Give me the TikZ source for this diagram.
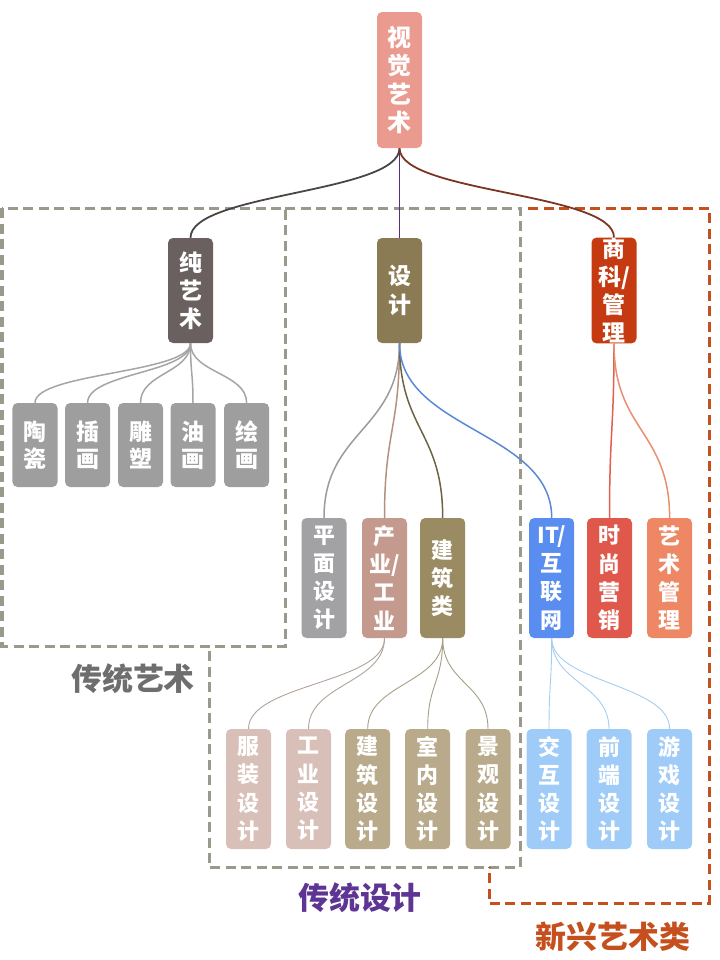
\documentclass[tikz,border=0pt]{standalone}
\usepackage{fontspec}
\newfontfamily\cjk{Noto Sans CJK SC}

\definecolor{cRoot}{HTML}{EB9A8F}
\definecolor{cFine}{HTML}{6B6060}
\definecolor{cDesign}{HTML}{8B7B55}
\definecolor{cBiz}{HTML}{C53A10}
\definecolor{cCraft}{HTML}{9E9E9E}
\definecolor{cGraphic}{HTML}{A2A2A4}
\definecolor{cIndustry}{HTML}{C39A8D}
\definecolor{cArch}{HTML}{9B8B62}
\definecolor{cIT}{HTML}{5A8DF0}
\definecolor{cFashion}{HTML}{E0574B}
\definecolor{cMgmt}{HTML}{EE8864}
\definecolor{cProd}{HTML}{D8C0B8}
\definecolor{cSpace}{HTML}{B8AA8A}
\definecolor{cWeb}{HTML}{9ECBF8}
\definecolor{cFrame}{HTML}{9B988C}
\definecolor{cOld}{HTML}{6E6E6E}
\definecolor{cNew}{HTML}{C5501E}
\definecolor{cPurple}{HTML}{5E3592}
\definecolor{eFine}{HTML}{4B4545}
\definecolor{eDesign}{HTML}{5B2D7E}
\definecolor{eBiz}{HTML}{7C3522}
\definecolor{eCraft}{HTML}{A5A5A5}
\definecolor{eGraphic}{HTML}{9B9B9B}
\definecolor{eIndustry}{HTML}{B39080}
\definecolor{eArch}{HTML}{6E6345}
\definecolor{eIT}{HTML}{5B88D6}
\definecolor{eFashion}{HTML}{E25E4E}
\definecolor{eMgmt}{HTML}{E98E6E}
\definecolor{eProd}{HTML}{B0A39B}
\definecolor{eSpace}{HTML}{A89E85}
\definecolor{eWeb}{HTML}{A6CDF0}

\tikzset{
	leaf/.style={rounded corners=5bp, minimum width=45bp, inner sep=0pt, text=white, align=center, font=\cjk\bfseries\fontsize{22}{28.3}\selectfont},
	link/.style={to path={.. controls +(0,#1) and +(0,-#1) .. (\tikztotarget)}},
	frame/.style={dash pattern=on 10bp off 5.5bp, line width=3bp},
	tag/.style={font=\cjk\bfseries\fontsize{31}{31}\selectfont, inner sep=0pt}
}

\begin{document}
\begin{tikzpicture}[x=1bp, y=-1bp]
	\useasboundingbox (0,0) rectangle (720,960);

	% dashed groups
	\draw[frame, cFrame]	(2,208) rectangle (285,646);
	\draw[frame, cFrame]	(285,208) -- (520,208) -- (520,867) -- (209,867) -- (209,646);
	\draw[frame, cNew]		(528,208) -- (709,208) -- (709,903) -- (489,903) -- (489,867);

	\node[tag, text=cOld]		(oldart) at (133,679) {传统艺术};
	\node[tag, text=cPurple]	(olddesign) at (360,898) {传统设计};
	\node[tag, text=cNew]		(newart) at (613,937) {新兴艺术类};

	% root and first level
	\node[leaf, fill=cRoot, minimum height=136bp, font=\cjk\bfseries\fontsize{24}{28.5}\selectfont]	(visual) at (399.5,80) {视\\觉\\艺\\术};
	\node[leaf, fill=cFine, minimum height=105bp, font=\cjk\bfseries\fontsize{23}{28.3}\selectfont]	(fine) at (190.5,290.5) {纯\\艺\\术};
	\node[leaf, fill=cDesign, minimum height=105bp, font=\cjk\bfseries\fontsize{23}{28.3}\selectfont]	(design) at (399.5,290.5) {设\\计};
	\node[leaf, fill=cBiz, minimum height=105bp, font=\cjk\bfseries\fontsize{23}{28.3}\selectfont]	(biz) at (614,290.5) {商\\科/\\管\\理};

	% fine art
	\node[leaf, fill=cCraft, minimum height=84bp, font=\cjk\bfseries\fontsize{23}{27}\selectfont]	(ceramic) at (35,445) {陶\\瓷};
	\node[leaf, fill=cCraft, minimum height=84bp, font=\cjk\bfseries\fontsize{23}{27}\selectfont]	(illus) at (87.6,445) {插\\画};
	\node[leaf, fill=cCraft, minimum height=84bp, font=\cjk\bfseries\fontsize{23}{27}\selectfont]	(sculpt) at (140.5,445) {雕\\塑};
	\node[leaf, fill=cCraft, minimum height=84bp, font=\cjk\bfseries\fontsize{23}{27}\selectfont]	(oil) at (193,445) {油\\画};
	\node[leaf, fill=cCraft, minimum height=84bp, font=\cjk\bfseries\fontsize{23}{27}\selectfont]	(paint) at (246.6,445) {绘\\画};

	% design and business
	\node[leaf, fill=cGraphic, minimum height=120bp]	(graphic) at (324,578) {平\\面\\设\\计};
	\node[leaf, fill=cIndustry, minimum height=120bp]	(industry) at (384.5,578) {产\\业/\\工\\业};
	\node[leaf, fill=cArch, minimum height=120bp]		(arch) at (442.7,578) {建\\筑\\类};
	\node[leaf, fill=cIT, minimum height=120bp]			(it) at (551.7,578) {IT/\\互\\联\\网};
	\node[leaf, fill=cFashion, minimum height=120bp]	(fashion) at (609.5,578) {时\\尚\\营\\销};
	\node[leaf, fill=cMgmt, minimum height=120bp]		(mgmt) at (669.6,578) {艺\\术\\管\\理};

	% third level
	\node[leaf, fill=cProd, minimum height=120bp]	(apparel) at (248.5,789) {服\\装\\设\\计};
	\node[leaf, fill=cProd, minimum height=120bp]	(product) at (308.5,789) {工\\业\\设\\计};
	\node[leaf, fill=cSpace, minimum height=120bp]	(building) at (367.7,789) {建\\筑\\设\\计};
	\node[leaf, fill=cSpace, minimum height=120bp]	(interior) at (427.7,789) {室\\内\\设\\计};
	\node[leaf, fill=cSpace, minimum height=120bp]	(landscape) at (488,789) {景\\观\\设\\计};
	\node[leaf, fill=cWeb, minimum height=120bp]	(ux) at (549,789) {交\\互\\设\\计};
	\node[leaf, fill=cWeb, minimum height=120bp]	(frontend) at (609,789) {前\\端\\设\\计};
	\node[leaf, fill=cWeb, minimum height=120bp]	(game) at (669.6,789) {游\\戏\\设\\计};

	% connectors
	\draw[eFine, line width=1.8bp]		(visual.south) to[link=45] (fine.north);
	\draw[eDesign, line width=1.8bp]	(visual.south) to[link=45] (design.north);
	\draw[eBiz, line width=1.8bp]		(visual.south) to[link=45] (biz.north);

	\foreach \c in {ceramic,illus,sculpt,oil,paint}
		\draw[eCraft, line width=1.5bp]	(fine.south) to[link=30] (\c.north);

	\draw[eGraphic, line width=1.5bp]	(design.south) to[link=87] (graphic.north);
	\draw[eIndustry, line width=1.5bp]	(design.south) to[link=87] (industry.north);
	\draw[eArch, line width=1.5bp]		(design.south) to[link=87] (arch.north);
	\draw[eIT, line width=1.5bp]		(design.south) to[link=87] (it.north);
	\draw[eFashion, line width=1.5bp]	(biz.south) to[link=87] (fashion.north);
	\draw[eMgmt, line width=1.5bp]		(biz.south) to[link=87] (mgmt.north);

	\foreach \c in {apparel,product}
		\draw[eProd, line width=0.9bp]	(industry.south) to[link=45] (\c.north);
	\foreach \c in {building,interior,landscape}
		\draw[eSpace, line width=0.9bp]	(arch.south) to[link=45] (\c.north);
	\foreach \c in {ux,frontend,game}
		\draw[eWeb, line width=0.9bp]	(it.south) to[link=45] (\c.north);
\end{tikzpicture}
\end{document}
